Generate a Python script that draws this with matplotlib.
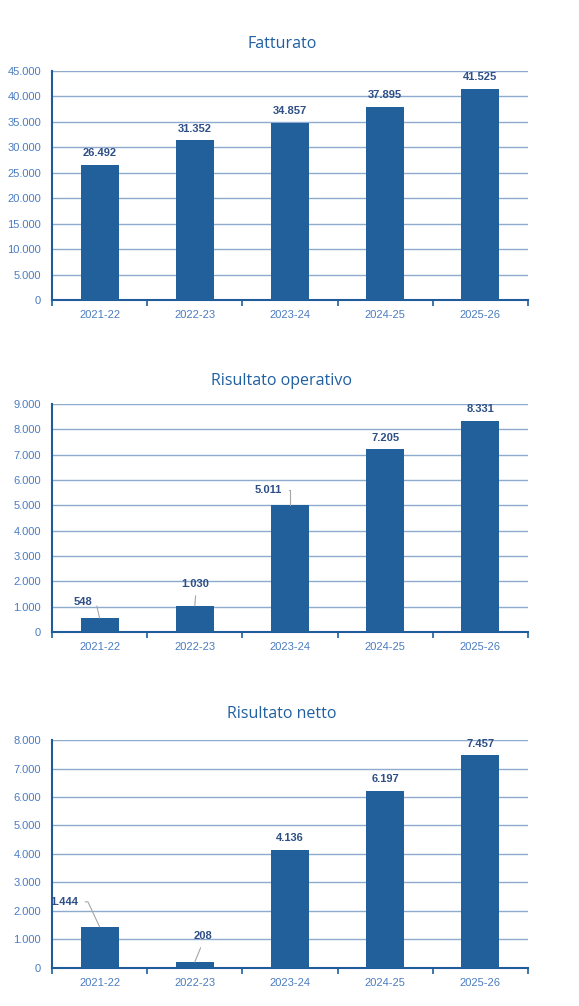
import matplotlib
matplotlib.use("Agg")
import matplotlib.pyplot as plt
from matplotlib.ticker import FuncFormatter, FixedLocator, MultipleLocator

# data
years = ["2021-22", "2022-23", "2023-24", "2024-25", "2025-26"]
fatturato = [26492, 31352, 34857, 37895, 41525]
risultato_operativo = [548, 1030, 5011, 7205, 8331]
risultato_netto = [1444, 208, 4136, 6197, 7457]

titles = ["Fatturato", "Risultato operativo", "Risultato netto"]
series = [fatturato, risultato_operativo, risultato_netto]
ymax = [45000, 9000, 8000]
ystep = [5000, 1000, 1000]

# labels placed away from the bar, with a leader line:
# index -> (x, y, relpos on text, connection style)
callouts = [
    {},
    {0: (-0.17, 1180, (1, 0.5), "angle,angleA=0,angleB=103"),
     1: (1.0, 1900, (0.55, 0), "arc3"),
     2: (1.77, 5600, (1, 0.5), "angle,angleA=0,angleB=90")},
    {0: (-0.37, 2320, (1, 0.5), "angle,angleA=0,angleB=115"),
     1: (1.09, 1120, (0.5, 0), "arc3")},
]

BAR = "#21609b"
SPINE = "#1f5c99"
GRID = "#8eaacc"
TICK = "#4a7cc0"
LABEL = "#2e4f86"
TITLE = "#1f5fa0"

plt.rcParams["font.family"] = ["Liberation Sans", "DejaVu Sans"]


def thousands(v, pos):
    return "{:,.0f}".format(v).replace(",", ".")


def drawChart(fig, rect, values, top, step, special):
    ax = fig.add_axes(rect)
    xs = list(range(len(values)))
    ax.bar(xs, values, width=0.4, color=BAR, zorder=3)
    ax.set_xlim(-0.5, len(values) - 0.5)
    ax.set_ylim(0, top)
    ax.yaxis.set_major_locator(MultipleLocator(step))
    ax.yaxis.set_major_formatter(FuncFormatter(thousands))
    ax.grid(axis="y", color=GRID, linewidth=1, zorder=0)
    for s in ["top", "right"]:
        ax.spines[s].set_visible(False)
    for s in ["left", "bottom"]:
        ax.spines[s].set_color(SPINE)
        ax.spines[s].set_linewidth(1.5)
    ax.tick_params(axis="y", length=0, labelsize=8, labelcolor=TICK, pad=8)
    # boundary ticks without labels, labels at bar centres
    ax.xaxis.set_major_locator(FixedLocator([i - 0.5 for i in range(len(values) + 1)]))
    ax.xaxis.set_minor_locator(FixedLocator(xs))
    ax.set_xticklabels([])
    ax.set_xticklabels(years, minor=True)
    ax.tick_params(axis="x", which="major", length=4, width=1.2, color=SPINE)
    ax.tick_params(axis="x", which="minor", length=0, labelsize=8, labelcolor=TICK, pad=7)

    for i, v in enumerate(values):
        txt = thousands(v, None)
        if i in special:
            tx, ty, rp, cs = special[i]
            ax.annotate(txt, xy=(i, v), xytext=(tx, ty), textcoords="data",
                        ha="center", va="center", fontsize=8, fontweight="bold",
                        color=LABEL, zorder=5,
                        arrowprops=dict(arrowstyle="-", color="#a6a6a6", lw=0.8,
                                        shrinkA=3, shrinkB=0, relpos=rp,
                                        connectionstyle=cs))
        else:
            ax.annotate(txt, xy=(i, v), xytext=(0, 5), textcoords="offset points",
                        ha="center", va="bottom", fontsize=8, fontweight="bold",
                        color=LABEL, zorder=5)
    return ax


fig = plt.figure(figsize=(5.79, 10.06), dpi=100)
rects = [
    [0.0898, 0.7018, 0.822, 0.2276],
    [0.0898, 0.3718, 0.822, 0.2266],
    [0.0898, 0.0378, 0.822, 0.2266],
]
title_y = [0.956, 0.621, 0.290]

for k in range(3):
    drawChart(fig, rects[k], series[k], ymax[k], ystep[k], callouts[k])
    fig.text(0.487, title_y[k], titles[k], ha="center", va="center", fontsize=11.5,
             color=TITLE, family=["Open Sans", "DejaVu Sans"])

fig.savefig("out.png", dpi=100, facecolor="white")
